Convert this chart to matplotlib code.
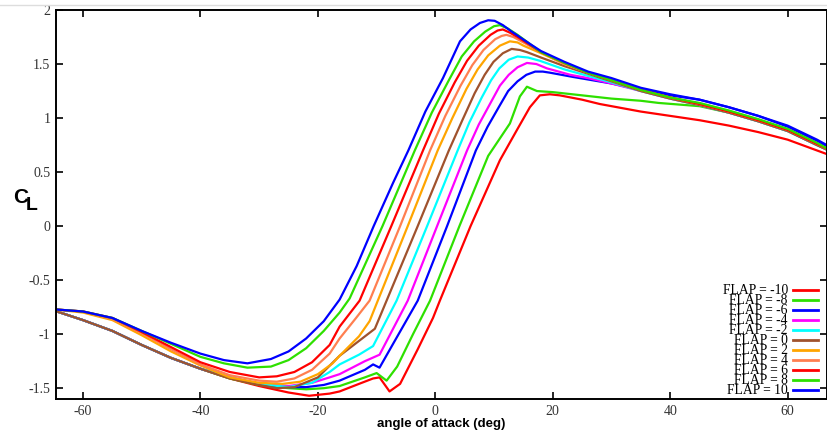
import matplotlib
matplotlib.use("Agg")
import matplotlib.pyplot as plt
from matplotlib.lines import Line2D
from matplotlib.ticker import FuncFormatter

plt.rcParams['axes.unicode_minus'] = False

# lift curves, one pair of lists per flap setting
alpha_m10 = [-65, -60, -55, -50, -45, -40, -35, -30, -25, -21.5, -18, -16.3, -13, -10.6, -9.5, -7.8, -6.0, -3.0, -0.4, 0.77, 6.0, 11.0, 13.9, 16.1, 17.8, 19.5, 21.2, 25, 28, 35, 40, 45, 50, 55, 60, 65, 67]
cl_m10 = [-0.78, -0.87, -0.97, -1.10, -1.22, -1.32, -1.41, -1.48, -1.54, -1.57, -1.55, -1.53, -1.46, -1.41, -1.40, -1.53, -1.46, -1.14, -0.85, -0.69, 0.0, 0.61, 0.89, 1.10, 1.21, 1.22, 1.21, 1.17, 1.13, 1.06, 1.02, 0.98, 0.93, 0.87, 0.80, 0.70, 0.66]

alpha_m8 = [-65, -60, -55, -50, -45, -40, -35, -30, -25, -22, -19, -16.3, -12, -10, -8.3, -6.5, -3.8, -0.9, 4.1, 9.0, 12.7, 14.4, 15.6, 17.3, 20, 25, 30, 35, 38, 45, 50, 55, 60, 65, 67]
cl_m8 = [-0.78, -0.87, -0.97, -1.10, -1.22, -1.32, -1.41, -1.47, -1.50, -1.51, -1.50, -1.48, -1.40, -1.36, -1.43, -1.30, -1.00, -0.69, 0.0, 0.65, 0.95, 1.20, 1.29, 1.25, 1.24, 1.21, 1.18, 1.16, 1.14, 1.11, 1.05, 0.97, 0.88, 0.75, 0.70]

alpha_m6 = [-65, -60, -55, -50, -45, -40, -35, -30, -25, -22, -19, -16.3, -12, -10.6, -9.5, -7.2, -3.0, 2.0, 6.9, 8.9, 10.9, 12.4, 14, 15.5, 17, 18.3, 19.5, 23.5, 30, 35, 40, 45, 50, 55, 60, 65, 67]
cl_m6 = [-0.78, -0.87, -0.97, -1.10, -1.22, -1.32, -1.40, -1.46, -1.49, -1.49, -1.47, -1.43, -1.33, -1.28, -1.31, -1.09, -0.69, 0.0, 0.70, 0.92, 1.11, 1.25, 1.34, 1.40, 1.43, 1.43, 1.42, 1.38, 1.32, 1.26, 1.21, 1.17, 1.10, 1.02, 0.92, 0.79, 0.73]

alpha_m4 = [-65, -60, -55, -50, -45, -40, -35, -30, -25, -21, -18, -16.3, -12, -9.5, -4.7, 0.3, 5.4, 7.4, 9.5, 11, 12.5, 14, 15.6, 17.2, 19, 23, 26, 30, 35, 40, 45, 50, 55, 60, 65, 67]
cl_m4 = [-0.78, -0.87, -0.97, -1.10, -1.22, -1.32, -1.40, -1.46, -1.48, -1.45, -1.40, -1.37, -1.25, -1.19, -0.69, 0.0, 0.70, 0.94, 1.15, 1.30, 1.40, 1.47, 1.51, 1.50, 1.46, 1.40, 1.37, 1.32, 1.25, 1.18, 1.12, 1.05, 0.97, 0.88, 0.75, 0.70]

alpha_m2 = [-65, -60, -55, -50, -45, -40, -35, -30, -25, -21, -18, -16.3, -13, -10.6, -6.6, -1.4, 3.8, 5.8, 7.9, 9.5, 10.9, 12.5, 14, 15.8, 17.8, 22, 26, 30, 35, 40, 45, 50, 55, 60, 65, 67]
cl_m2 = [-0.78, -0.87, -0.97, -1.10, -1.22, -1.32, -1.40, -1.46, -1.49, -1.45, -1.35, -1.28, -1.19, -1.11, -0.69, 0.0, 0.70, 0.96, 1.19, 1.35, 1.46, 1.54, 1.57, 1.56, 1.53, 1.45, 1.39, 1.33, 1.25, 1.18, 1.12, 1.05, 0.97, 0.88, 0.75, 0.70]

alpha_0 = [-65, -60, -55, -50, -45, -40, -35, -30, -27, -24, -20, -16.3, -10.3, -3.0, 2.3, 4.6, 6.7, 8.4, 9.9, 11.5, 13, 14.4, 15.6, 18, 22, 26, 30, 35, 40, 45, 50, 55, 60, 65, 67]
cl_0 = [-0.78, -0.87, -0.97, -1.10, -1.22, -1.32, -1.41, -1.47, -1.50, -1.49, -1.40, -1.20, -0.95, 0.0, 0.70, 0.98, 1.23, 1.40, 1.52, 1.60, 1.64, 1.63, 1.61, 1.56, 1.48, 1.41, 1.34, 1.25, 1.18, 1.12, 1.05, 0.97, 0.88, 0.75, 0.70]

alpha_p2 = [-65, -60, -55, -50, -45, -40, -35, -30, -26, -23, -20, -17.5, -16.3, -13, -11.2, -9.8, -4.7, 0.4, 2.9, 5.3, 7.2, 9.0, 11, 12.7, 14, 15, 18, 22, 26, 30, 35, 40, 45, 50, 55, 60, 65, 67]
cl_p2 = [-0.77, -0.80, -0.87, -1.01, -1.16, -1.29, -1.40, -1.45, -1.46, -1.44, -1.37, -1.27, -1.20, -1.02, -0.88, -0.69, 0.0, 0.70, 1.00, 1.27, 1.45, 1.58, 1.67, 1.71, 1.70, 1.67, 1.60, 1.50, 1.42, 1.35, 1.26, 1.19, 1.13, 1.06, 0.98, 0.89, 0.76, 0.71]

alpha_p4 = [-65, -60, -55, -50, -45, -40, -35, -30, -27, -24, -21, -18, -16.3, -13.5, -11.2, -6.0, -0.9, 1.7, 4.3, 6.3, 8.2, 10.2, 11.3, 12.1, 13.3, 15, 18, 22, 26, 30, 35, 40, 45, 50, 55, 60, 65, 67]
cl_p4 = [-0.77, -0.79, -0.86, -0.99, -1.14, -1.28, -1.38, -1.43, -1.44, -1.41, -1.33, -1.18, -1.04, -0.85, -0.69, 0.0, 0.70, 1.02, 1.30, 1.49, 1.63, 1.73, 1.76, 1.77, 1.75, 1.70, 1.61, 1.50, 1.42, 1.35, 1.26, 1.19, 1.13, 1.06, 0.98, 0.89, 0.76, 0.71]

alpha_p6 = [-65, -60, -55, -50, -45, -40, -35, -30, -27, -24, -21, -18, -16.3, -12.9, -7.5, -2.1, 0.6, 3.3, 5.4, 7.4, 9.4, 10.6, 11.5, 12.7, 14, 18, 22, 26, 30, 35, 40, 45, 50, 55, 60, 65, 67]
cl_p6 = [-0.77, -0.79, -0.85, -0.98, -1.12, -1.26, -1.35, -1.40, -1.39, -1.35, -1.26, -1.10, -0.93, -0.69, 0.0, 0.70, 1.04, 1.33, 1.53, 1.67, 1.77, 1.81, 1.82, 1.79, 1.75, 1.61, 1.51, 1.42, 1.35, 1.26, 1.19, 1.13, 1.06, 0.98, 0.89, 0.76, 0.71]

alpha_p8 = [-65, -60, -55, -50, -45, -40, -36, -32, -28, -25, -22, -19, -16.3, -14.6, -9.0, -3.5, -0.6, 2.3, 4.5, 6.6, 8.5, 10, 11, 12.3, 14, 18, 22, 26, 30, 35, 40, 45, 50, 55, 60, 65, 67]
cl_p8 = [-0.77, -0.79, -0.85, -0.97, -1.09, -1.21, -1.27, -1.31, -1.30, -1.24, -1.13, -0.97, -0.80, -0.67, 0.0, 0.70, 1.05, 1.35, 1.57, 1.71, 1.80, 1.85, 1.86, 1.83, 1.77, 1.61, 1.51, 1.42, 1.35, 1.26, 1.19, 1.14, 1.07, 0.99, 0.90, 0.77, 0.71]

alpha_p10 = [-65, -60, -55, -50, -45, -40, -36, -32, -28, -25, -22, -19, -16.3, -13.4, -10.5, -7.2, -4.6, -1.7, 1.3, 4.2, 6.0, 7.6, 9.0, 10.1, 11.5, 13, 16, 18, 22, 26, 30, 35, 40, 45, 50, 55, 60, 65, 67]
cl_p10 = [-0.77, -0.79, -0.85, -0.97, -1.08, -1.18, -1.24, -1.27, -1.23, -1.16, -1.04, -0.88, -0.68, -0.37, 0.0, 0.40, 0.70, 1.06, 1.37, 1.71, 1.82, 1.88, 1.905, 1.90, 1.86, 1.80, 1.69, 1.62, 1.52, 1.43, 1.37, 1.28, 1.22, 1.17, 1.10, 1.02, 0.93, 0.80, 0.74]

flaps = [-10, -8, -6, -4, -2, 0, 2, 4, 6, 8, 10]
alphas = [alpha_m10, alpha_m8, alpha_m6, alpha_m4, alpha_m2, alpha_0,
          alpha_p2, alpha_p4, alpha_p6, alpha_p8, alpha_p10]
cls = [cl_m10, cl_m8, cl_m6, cl_m4, cl_m2, cl_0,
       cl_p2, cl_p4, cl_p6, cl_p8, cl_p10]
colors = ['#ff0000', '#2ee000', '#0000ff', '#ff00ff', '#00ffff', '#a0522d',
          '#ffa500', '#ff7f50', '#ff0000', '#2ee000', '#0000ff']

fig = plt.figure(figsize=(8.28, 4.36), dpi=100)
ax = fig.add_axes([56 / 828, 37 / 436, 771 / 828, 389 / 436])

for f, a, c, col in zip(flaps, alphas, cls, colors):
    ax.plot(a, c, color=col, lw=1.6, label=f"FLAP = {f}")

ax.set_xlim(-64.6, 66.7)
ax.set_ylim(-1.6, 2.0)
ax.set_xticks([-60, -40, -20, 0, 20, 40, 60])
ax.set_yticks([-1.5, -1, -0.5, 0, 0.5, 1, 1.5, 2])
ax.xaxis.set_major_formatter(FuncFormatter(lambda v, p: f"{v:g}"))
ax.yaxis.set_major_formatter(FuncFormatter(lambda v, p: f"{v:g}"))
ax.tick_params(direction='in', length=5, width=1.2, top=True, right=True,
               labelsize=10, labelcolor='#333333', pad=4)
for lab in ax.get_xticklabels() + ax.get_yticklabels():
    lab.set_family('Liberation Serif')
for sp in ax.spines.values():
    sp.set_linewidth(1.4)

ax.set_xlabel('angle of attack (deg)', family='Liberation Sans',
              fontweight='bold', fontsize=9.5, labelpad=0)
fig.text(13 / 828, 1 - 197 / 436, 'C', family='Liberation Sans',
         fontweight='bold', fontsize=15, va='center', ha='left')
fig.text(26 / 828, 1 - 205 / 436, 'L', family='Liberation Sans',
         fontweight='bold', fontsize=14, va='center', ha='left')

leg = ax.legend(loc='lower right', bbox_to_anchor=(0.988, 0.004),
                frameon=False, markerfirst=False,
                prop={'family': 'Liberation Serif', 'size': 9.8},
                handlelength=1.8, handletextpad=0.4, labelspacing=-0.22,
                borderaxespad=0, borderpad=0)
for h in leg.get_lines():
    h.set_linewidth(2.0)
leg._legend_handle_box.get_children()[0].align = 'right'

fig.add_artist(Line2D([0, 1], [1 - 5 / 436] * 2, transform=fig.transFigure,
                      color='#dddddd', lw=1))

fig.savefig('out.png', dpi=100)
